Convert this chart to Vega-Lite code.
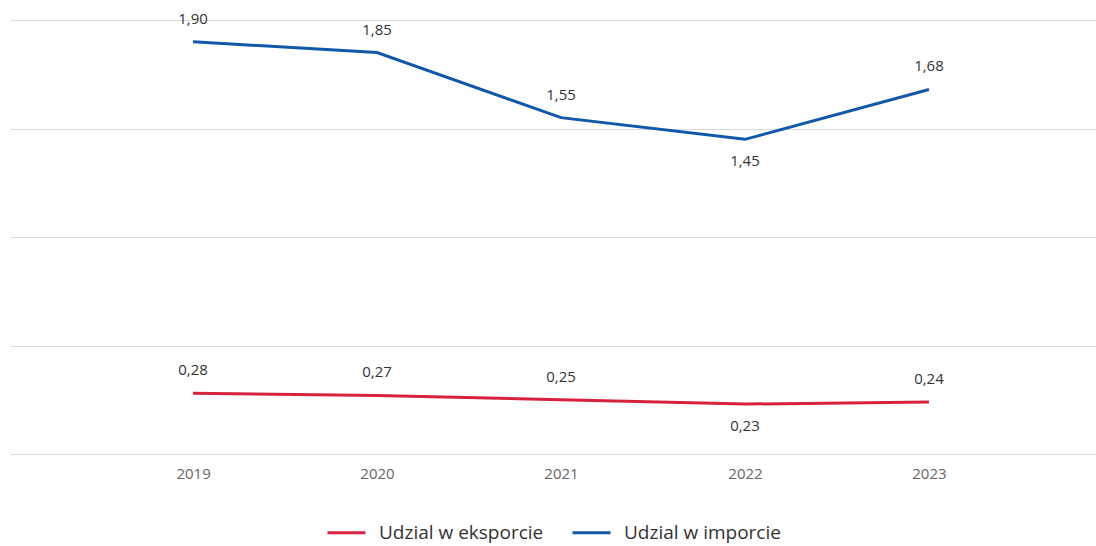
{
  "$schema": "https://vega.github.io/schema/vega-lite/v6.json",
  "width": 1086,
  "height": 434,
  "autosize": "none",
  "padding": {"left": 10, "top": 20, "right": 0, "bottom": 92},
  "background": "white",
  "config": {
    "view": {"stroke": null},
    "font": "Open Sans",
    "locale": {"number": {"decimal": ",", "thousands": " ", "grouping": [3], "currency": ["", " zł"]}}
  },
  "data": {
    "values": [
      {"year": 2019, "series": "Udzial w eksporcie", "value": 0.28},
      {"year": 2020, "series": "Udzial w eksporcie", "value": 0.27},
      {"year": 2021, "series": "Udzial w eksporcie", "value": 0.25},
      {"year": 2022, "series": "Udzial w eksporcie", "value": 0.23},
      {"year": 2023, "series": "Udzial w eksporcie", "value": 0.24},
      {"year": 2019, "series": "Udzial w imporcie", "value": 1.90},
      {"year": 2020, "series": "Udzial w imporcie", "value": 1.85},
      {"year": 2021, "series": "Udzial w imporcie", "value": 1.55},
      {"year": 2022, "series": "Udzial w imporcie", "value": 1.45},
      {"year": 2023, "series": "Udzial w imporcie", "value": 1.68}
    ]
  },
  "encoding": {
    "x": {
      "field": "year", "type": "quantitative",
      "scale": {"domain": [2018.005, 2023.908], "nice": false, "zero": false},
      "axis": {"values": [2019, 2020, 2021, 2022, 2023], "format": "d", "title": null, "grid": false, "domain": false, "ticks": false, "labelColor": "#666666", "labelFontSize": 15, "labelPadding": 12, "labelFont": "Open Sans"}
    },
    "y": {
      "field": "value", "type": "quantitative",
      "scale": {"domain": [0, 2], "nice": false},
      "axis": {"values": [0, 0.5, 1, 1.5, 2], "title": null, "labels": false, "domain": false, "ticks": false, "gridColor": "#d9d9d9", "gridWidth": 1}
    }
  },
  "layer": [
    {
      "mark": {"type": "line", "strokeWidth": 3, "clip": false},
      "encoding": {
        "color": {
          "field": "series", "type": "nominal",
          "scale": {"domain": ["Udzial w eksporcie", "Udzial w imporcie"], "range": ["#d6223f", "#1258a8"]},
          "legend": {"title": null, "orient": "none", "legendX": 316, "legendY": 492, "direction": "horizontal", "symbolType": "stroke", "symbolStrokeWidth": 3, "symbolSize": 1444, "labelFontSize": 19, "labelColor": "#333333", "labelFont": "Open Sans", "labelOffset": 12, "columnPadding": 22, "labelLimit": 300}
        }
      }
    },
    {
      "transform": [{"filter": "datum.year != 2022"}],
      "mark": {"type": "text", "dy": -23, "fontSize": 15, "color": "#333333", "baseline": "middle"},
      "encoding": {"text": {"field": "value", "type": "quantitative", "format": ".2f"}}
    },
    {
      "transform": [{"filter": "datum.year == 2022"}],
      "mark": {"type": "text", "dy": 22, "fontSize": 15, "color": "#333333", "baseline": "middle"},
      "encoding": {"text": {"field": "value", "type": "quantitative", "format": ".2f"}}
    }
  ]
}
